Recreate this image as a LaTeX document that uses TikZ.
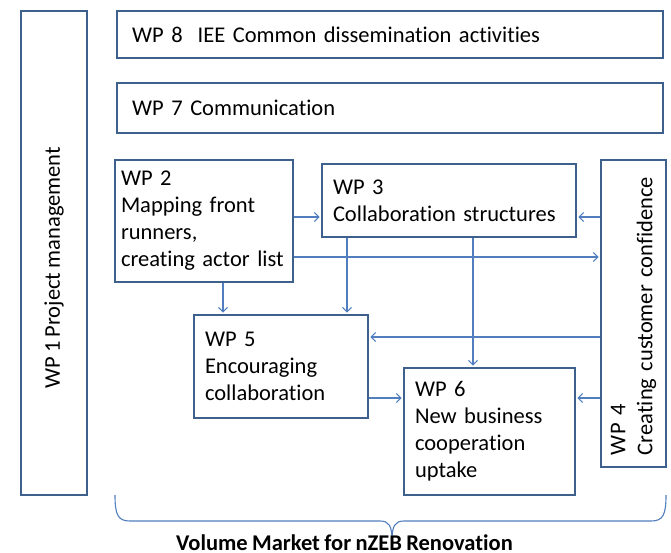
\documentclass[tikz,border=0pt]{standalone}
\usepackage{fontspec}
\setmainfont[Ligatures=CommonOff,WordSpace=0.85]{Carlito}
\usetikzlibrary{arrows.meta}
\definecolor{boxc}{RGB}{62,96,140}
\definecolor{arrc}{RGB}{80,126,190}
\begin{document}
\begin{tikzpicture}[x=1pt,y=-1pt,
  wpbox/.style={draw=boxc, line width=2.4pt, fill=white, inner xsep=10pt, inner ysep=0pt,
    align=left, font=\fontsize{22.5}{27}\selectfont},
  wptext/.style={inner sep=0pt, font=\fontsize{22.5}{27}\selectfont},
  arr/.style={draw=arrc, line width=1.1pt, -{Straight Barb[length=4.5pt,width=9pt]}, shorten >=1.2pt},
  brace/.style={draw=arrc, line width=1.1pt},
  lbl/.style={font=\fontsize{22.5}{26}\selectfont\bfseries, inner sep=0pt}]
\useasboundingbox (0,0) rectangle (671,553);
\fill[white] (0,0) rectangle (671,553);

% boxes
\node[wpbox, minimum width=66pt, minimum height=484pt, inner xsep=0pt]
  (wp1) at (54,253) {};
\node[wptext, rotate=90] (wp1t) at (54,268) {WP 1 Project management};
\node[wpbox, minimum height=47pt, text width=516pt, inner xsep=15pt, anchor=west]
  (wp8) at (116,34.5) {WP 8~~IEE Common dissemination activities};
\node[wpbox, minimum height=50pt, text width=516pt, inner xsep=15pt, anchor=west]
  (wp7) at (116,108) {WP 7 Communication};
\node[wpbox, minimum height=122pt, text width=166pt, inner xsep=6pt]
  (wp2) at (204,221) {WP 2\\Mapping front\\runners,\\\mbox{creating actor list}};
\node[wpbox, minimum height=73pt, text width=232pt, inner xsep=11pt]
  (wp3) at (449,200.5) {WP 3\\Collaboration structures};
\node[wpbox, rotate=90, minimum width=307pt, minimum height=65pt, text width=283pt, inner xsep=12pt]
  (wp4) at (633.5,313.5) {WP 4\\Creating customer confidence};
\node[wpbox, minimum height=103pt, text width=152pt, inner xsep=11pt]
  (wp5) at (281,366.5) {WP 5\\Encouraging\\collaboration};
\node[wpbox, minimum height=127pt, text width=149pt, inner xsep=11pt]
  (wp6) at (489.5,431.5) {WP 6\\New business\\cooperation\\uptake};

% helper levels
\coordinate (yA) at (0,217);
\coordinate (yB) at (0,257);
\coordinate (yC) at (0,337);
\coordinate (yD) at (0,398);
\coordinate (xA) at (223,0);
\coordinate (xB) at (347,0);
\coordinate (xC) at (473,0);

% connectors
\draw[arr] (wp2.east |- yA) -- (wp3.west |- yA);
\draw[arr] (wp4.north |- yA) -- (wp3.east |- yA);
\draw[arr] (wp2.east |- yB) -- (wp4.north |- yB);
\draw[arr] (wp2.south -| xA) -- (wp5.north -| xA);
\draw[arr] (wp3.south -| xB) -- (wp5.north -| xB);
\draw[arr] (wp3.south -| xC) -- (wp6.north -| xC);
\draw[arr] (wp4.north |- yC) -- (wp5.east |- yC);
\draw[arr] (wp5.east |- yD) -- (wp6.west |- yD);
\draw[arr] (wp4.north |- yD) -- (wp6.east |- yD);

% brace
\coordinate (bl) at (115,495);
\coordinate (br) at (666,495);
\coordinate (bt) at (392,540);
\draw[brace] (bl) .. controls (115,515) and (118,521) .. (130,521) -- (380,521)
  .. controls (389,521) and (392,526) .. (bt)
  .. controls (392,526) and (395,521) .. (404,521) -- (651,521)
  .. controls (663,521) and (666,515) .. (br);
\node[lbl] (vm) at (344.5,543) {Volume Market for nZEB Renovation};
\end{tikzpicture}
\end{document}
